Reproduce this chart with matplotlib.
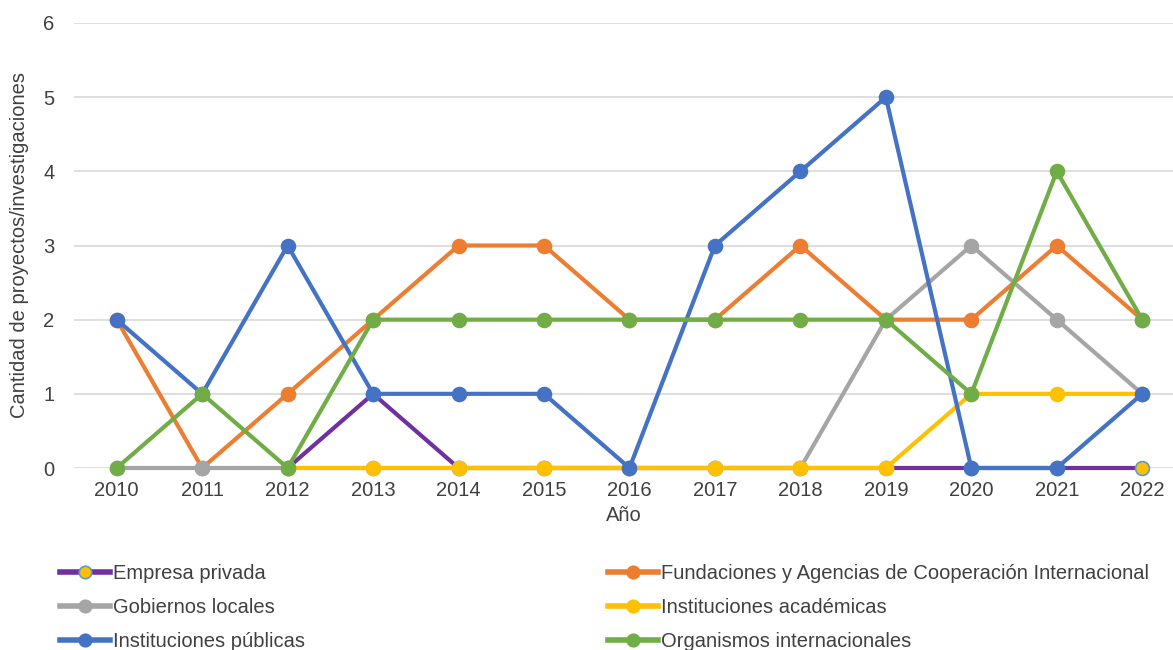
import numpy as np
import matplotlib.pyplot as plt
from matplotlib.lines import Line2D

# Datos
years = [2010, 2011, 2012, 2013, 2014, 2015, 2016, 2017, 2018, 2019, 2020, 2021, 2022]
nan = np.nan
empresa = [nan, nan, 0, 1, 0, 0, 0, 0, 0, 0, 0, 0, 0]
fundaciones = [2, 0, 1, 2, 3, 3, 2, 2, 3, 2, 2, 3, 2]
gobiernos = [0, 0, 0, 0, 0, 0, 0, 0, 0, 2, 3, 2, 1]
academicas = [nan, nan, 0, 0, 0, 0, 0, 0, 0, 0, 1, 1, 1]
publicas = [2, 1, 3, 1, 1, 1, 0, 3, 4, 5, 0, 0, 1]
organismos = [0, 1, 0, 2, 2, 2, 2, 2, 2, 2, 1, 4, 2]

series = [
    ("Empresa privada", empresa, "#7030A0", "#FFC000", "#5B9BD5"),
    ("Fundaciones y Agencias de Cooperación Internacional", fundaciones, "#ED7D31", "#ED7D31", "#ED7D31"),
    ("Gobiernos locales", gobiernos, "#A5A5A5", "#A5A5A5", "#A5A5A5"),
    ("Instituciones académicas", academicas, "#FFC000", "#FFC000", "#FFC000"),
    ("Instituciones públicas", publicas, "#4472C4", "#4472C4", "#4472C4"),
    ("Organismos internacionales", organismos, "#70AD47", "#70AD47", "#70AD47"),
]

plt.rcParams['font.family'] = ['Liberation Sans', 'DejaVu Sans']
txt = "#404040"
fs = 14.5

fig = plt.figure(figsize=(11.73, 6.5), dpi=100)
ax = fig.add_axes([74 / 1173, 182 / 650, 1099 / 1173, 445 / 650])

x = np.arange(len(years))
handles = {}
for name, vals, color, mfc, mec in series:
    h, = ax.plot(x, vals, color=color, lw=3, marker="o", markersize=10,
                 markerfacecolor=mfc, markeredgecolor=mec, markeredgewidth=1.2,
                 label=name, zorder=3)
    handles[name] = h

ax.set_xlim(-0.5, 12.36)
ax.set_ylim(0, 6)
ax.set_yticks(range(0, 7))
ax.set_xticks(x)
ax.set_xticklabels([str(y) for y in years])
ax.tick_params(length=0, labelsize=fs, colors=txt, pad=9)
ax.tick_params(axis="y", pad=14)
ax.grid(axis="y", color="#D9D9D9", lw=1.2, zorder=0)
for s in ax.spines.values():
    s.set_visible(False)
for line in ax.lines:
    line.set_clip_on(False)

ax.set_ylabel("Cantidad de proyectos/investigaciones", fontsize=fs, color=txt, labelpad=10)
ax.set_xlabel("Año", fontsize=fs, color=txt, labelpad=5)

col1 = ["Empresa privada", "Gobiernos locales", "Instituciones públicas"]
col2 = ["Fundaciones y Agencias de Cooperación Internacional",
        "Instituciones académicas", "Organismos internacionales"]

def make_handle(name):
    h = handles[name]
    return Line2D([], [], color=h.get_color(), lw=4, marker="o", markersize=9,
                  markerfacecolor=h.get_markerfacecolor(),
                  markeredgecolor=h.get_markeredgecolor(), markeredgewidth=1.2)

for names, xpos in [(col1, 60 / 1173), (col2, 608 / 1173)]:
    fig.legend([make_handle(n) for n in names], names, loc="upper left",
               bbox_to_anchor=(xpos, 86 / 650), frameon=False, fontsize=fs,
               handlelength=2.5, handletextpad=0.15, labelspacing=0.74,
               borderpad=0, borderaxespad=0, labelcolor=txt)

fig.savefig("out.png", dpi=100)
